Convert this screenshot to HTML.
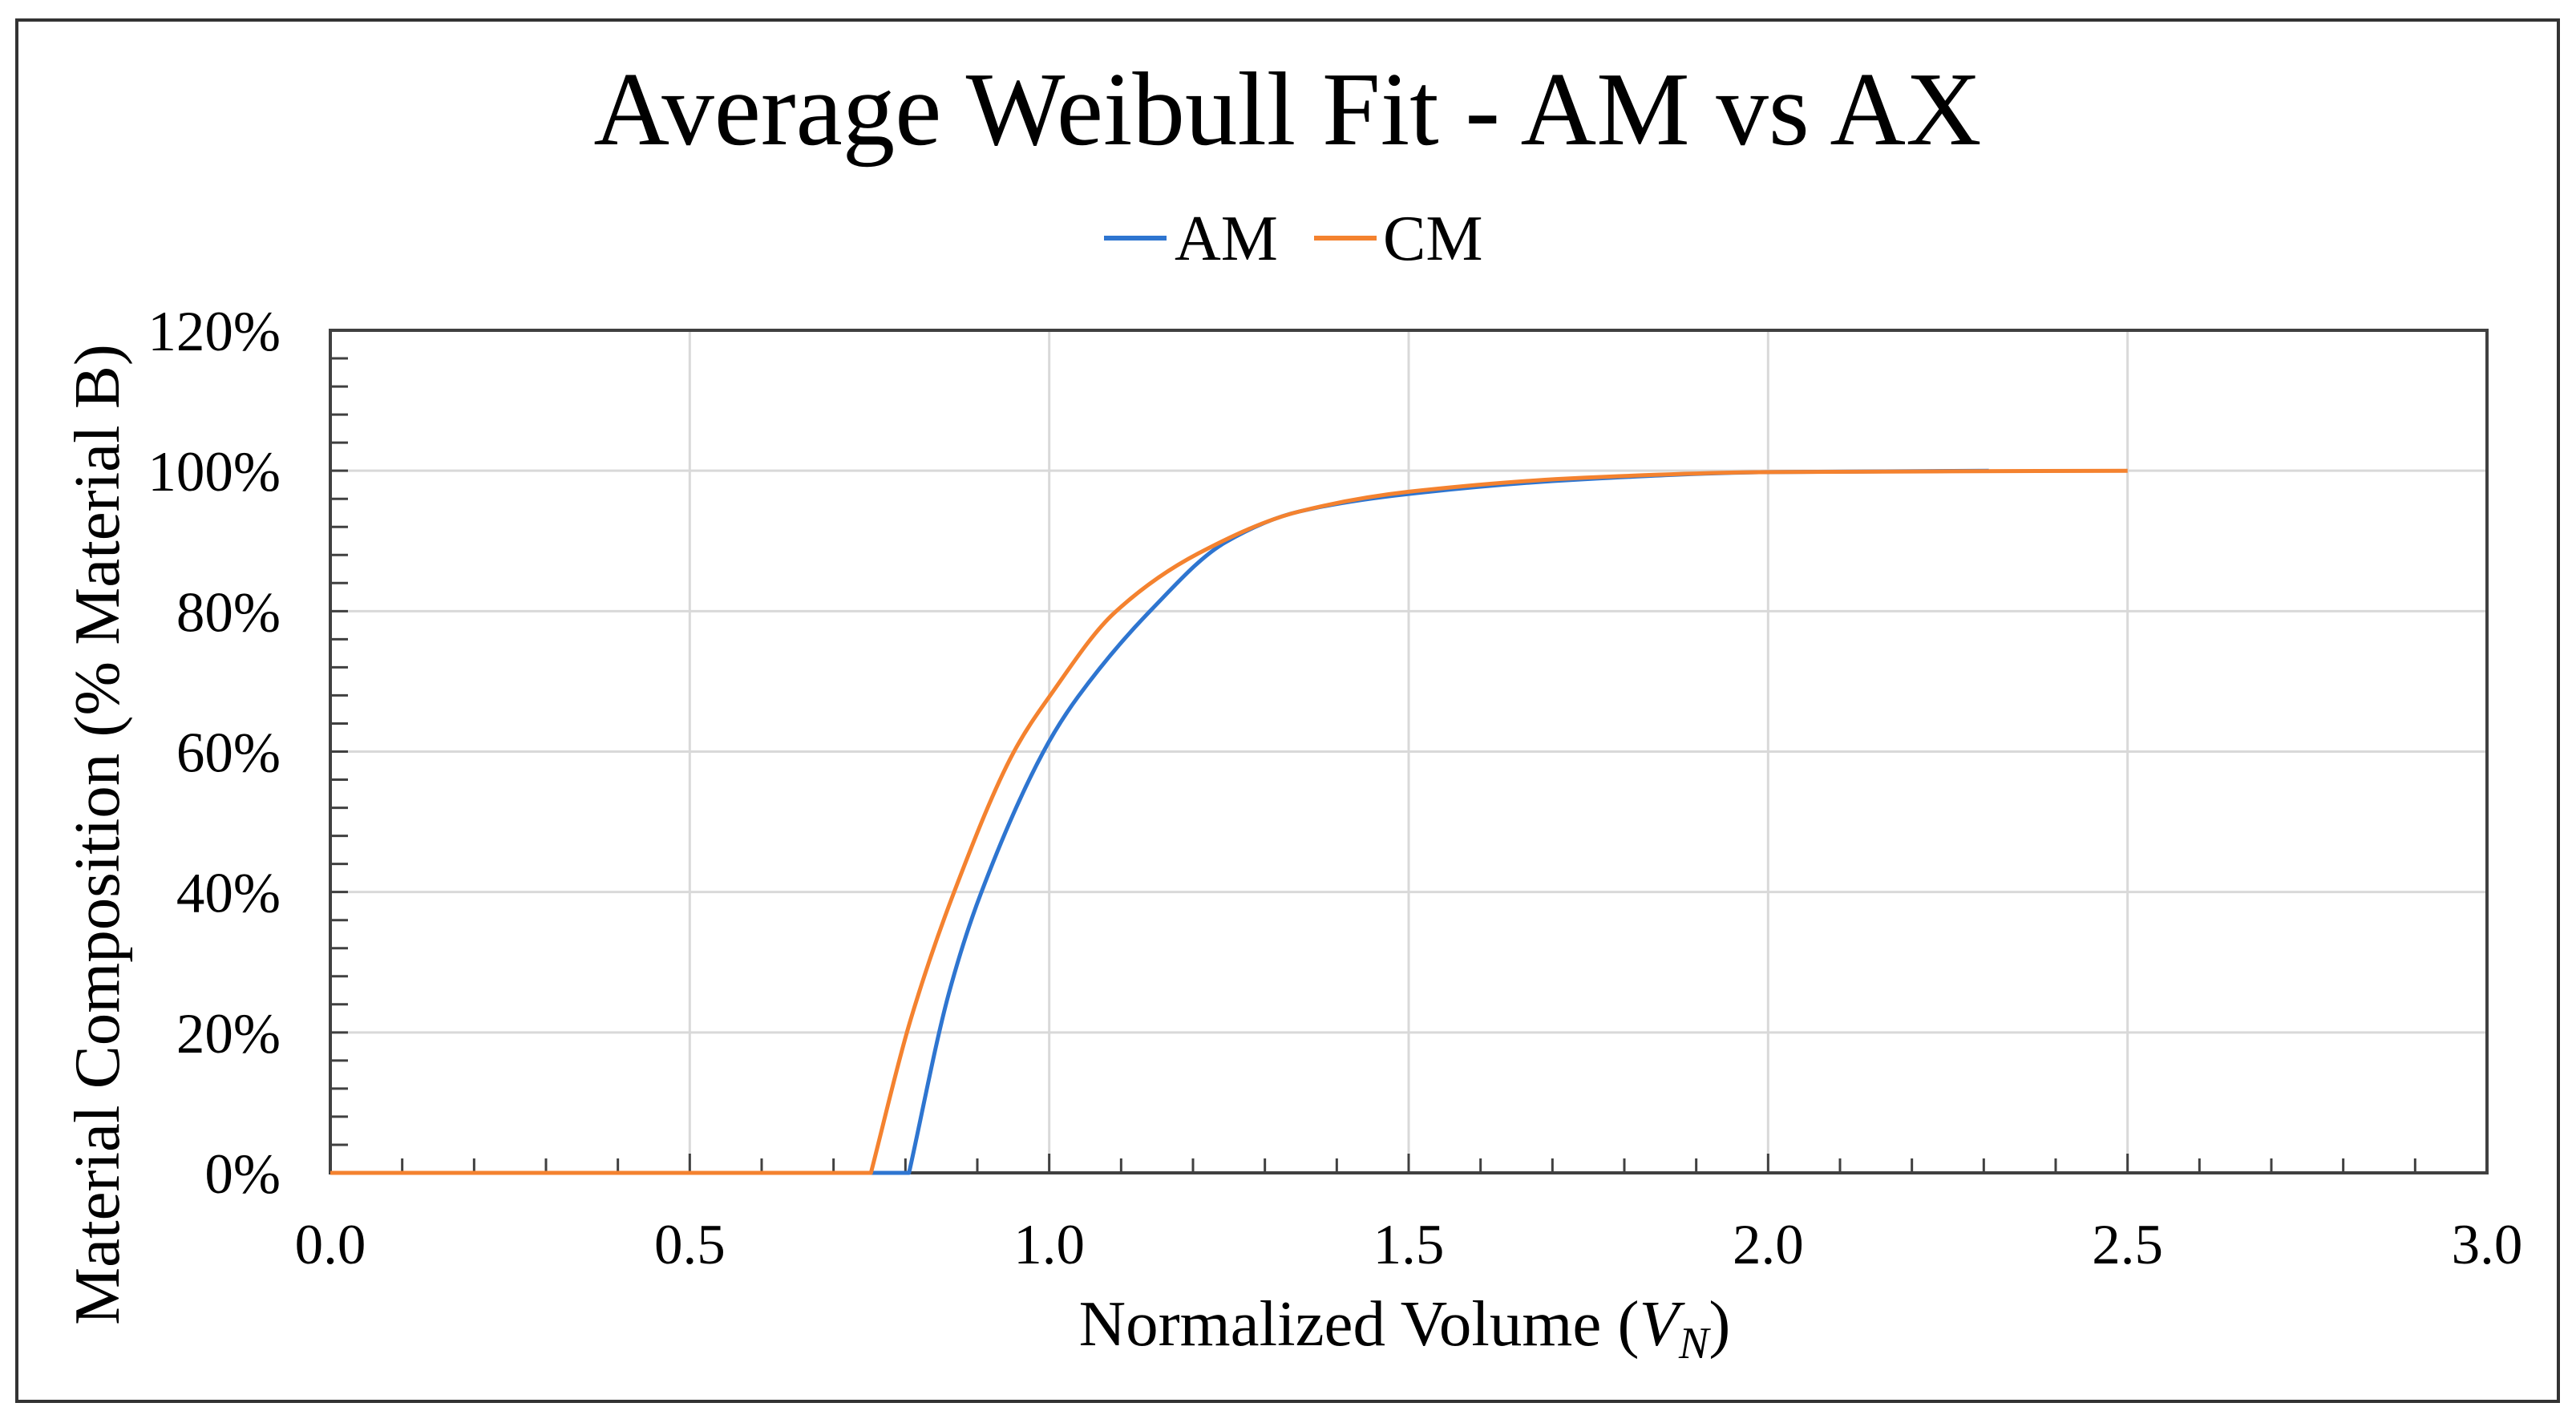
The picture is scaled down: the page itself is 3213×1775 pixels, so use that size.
<!DOCTYPE html>
<html><head><meta charset="utf-8"><style>
html,body{margin:0;padding:0;background:#fff;}
svg{display:block;font-family:"Liberation Serif",serif;}
</style></head><body>
<svg id="chart" width="3213" height="1775" viewBox="0 0 3213 1775" xmlns="http://www.w3.org/2000/svg">
<rect x="21" y="25" width="3170" height="1723" fill="#fff" stroke="#333" stroke-width="4"/>
<text x="1606" y="180" font-size="131" text-anchor="middle" fill="#000">Average Weibull Fit - AM vs AX</text>
<g>
<g>
<line x1="1377" y1="297" x2="1455" y2="297" stroke="#2e75d0" stroke-width="6"/>
<text x="1465" y="324" font-size="80" fill="#000">AM</text></g>
<g>
<line x1="1639" y1="297" x2="1717" y2="297" stroke="#f4822f" stroke-width="6"/>
<text x="1725" y="324" font-size="80" fill="#000">CM</text></g>
</g>
<g id="grid"></g>
<g id="axes"></g>
<g id="series"></g>
<text x="1752" y="1678" font-size="81" text-anchor="middle" fill="#000">Normalized Volume (<tspan font-style="italic">V</tspan><tspan font-style="italic" font-size="56" dy="16">N</tspan><tspan dy="-16">)</tspan></text>
<text transform="translate(148,1041) rotate(-90)" font-size="81" text-anchor="middle" fill="#000">Material Composition (% Material B)</text>
</svg>
<script>
const xTicks = [0, 0.5, 1.0, 1.5, 2.0, 2.5, 3.0];
const xTickLabels = ["0.0","0.5","1.0","1.5","2.0","2.5","3.0"];
const yTicks = [0, 20, 40, 60, 80, 100, 120];
const yTickLabels = ["0%","20%","40%","60%","80%","100%","120%"];
const amX = [0, 0.805, 0.86, 0.905, 0.991, 1.04, 1.142, 1.245, 1.348, 1.5, 1.744, 2.0, 2.307];
const amY = [0, 0, 25.4, 39.8, 59.8, 67.8, 80.2, 89.8, 94.2, 96.7, 98.8, 99.8, 100];
const cmX = [0, 0.752, 0.806, 0.867, 0.95, 1.0, 1.091, 1.207, 1.348, 1.5, 1.744, 2.0, 2.5];
const cmY = [0, 0, 21.4, 39.8, 59.8, 67.8, 79.8, 88.2, 94.2, 97.0, 99.0, 99.8, 100];

const L=412,R=3102,T=412,B=1463;
const sx=v=>L+(v-0)/(3-0)*(R-L);
const sy=v=>B-(v-0)/(120-0)*(B-T);
const NS='http://www.w3.org/2000/svg';
function mk(tag,attrs,parent){const e=document.createElementNS(NS,tag);for(const k in attrs)e.setAttribute(k,attrs[k]);parent.appendChild(e);return e;}
const grid=document.getElementById('grid'),axes=document.getElementById('axes'),series=document.getElementById('series');
yTicks.forEach((v,i)=>{
  if(v>0&&v<120){const g=mk('line',{x1:L,x2:R,y1:sy(v),y2:sy(v),stroke:'#d9d9d9','stroke-width':3},grid);
  
  }
  const t=mk('text',{x:350,y:sy(v)+25,'font-size':71,'text-anchor':'end',fill:'#000'},axes);
  t.textContent=yTickLabels[i];
  
  
});
xTicks.forEach((v,i)=>{
  if(v>0&&v<3){const g=mk('line',{x1:sx(v),x2:sx(v),y1:T,y2:B,stroke:'#d9d9d9','stroke-width':3},grid);
  
  }
  const t=mk('text',{x:sx(v),y:1576,'font-size':71,'text-anchor':'middle',fill:'#000'},axes);
  t.textContent=xTickLabels[i];
  
  
});
for(let v=0;v<=120;v+=4){mk('line',{x1:L,x2:L+22,y1:sy(v),y2:sy(v),stroke:'#404040','stroke-width':3},axes);}
for(let k=0;k<=30;k++){const v=k/10;mk('line',{x1:sx(v),x2:sx(v),y1:B,y2:B-(k%5==0?24:18),stroke:'#404040','stroke-width':3},axes);}
const fr=mk('rect',{x:L,y:T,width:R-L,height:B-T,fill:'none',stroke:'#404040','stroke-width':4},axes);


function smoothPath(xs,ys){
  const P=xs.map((x,i)=>[sx(x),sy(ys[i])]);
  // find start of rise (last zero point)
  let k=0; while(k+1<ys.length && ys[k+1]===0) k++;
  let s='M'+P[0][0].toFixed(1)+' '+P[0][1].toFixed(1)+' L'+P[k][0].toFixed(1)+' '+P[k][1].toFixed(1);
  const Q=P.slice(k), n=Q.length, d=[], m=new Array(n).fill(0);
  for(let i=0;i<n-1;i++) d.push((Q[i+1][1]-Q[i][1])/(Q[i+1][0]-Q[i][0]));
  m[0]=d[0]; m[n-1]=d[n-2];
  for(let i=1;i<n-1;i++){ if(d[i-1]*d[i]<=0) m[i]=0; else m[i]=2/(1/d[i-1]+1/d[i]); }
  for(let i=0;i<n-1;i++){
    const h=Q[i+1][0]-Q[i][0];
    s+=' C'+(Q[i][0]+h/3).toFixed(1)+' '+(Q[i][1]+m[i]*h/3).toFixed(1)+' '+(Q[i+1][0]-h/3).toFixed(1)+' '+(Q[i+1][1]-m[i+1]*h/3).toFixed(1)+' '+Q[i+1][0].toFixed(1)+' '+Q[i+1][1].toFixed(1);
  }
  return s;
}
function line(xs,ys,color,name){
  const p=mk('path',{d:smoothPath(xs,ys),fill:'none',stroke:color,'stroke-width':5,'stroke-linejoin':'round'},series);
  
  
}
line(amX,amY,'#2e75d0','am-line');
line(cmX,cmY,'#f4822f','cm-line');
</script>
</body></html>
